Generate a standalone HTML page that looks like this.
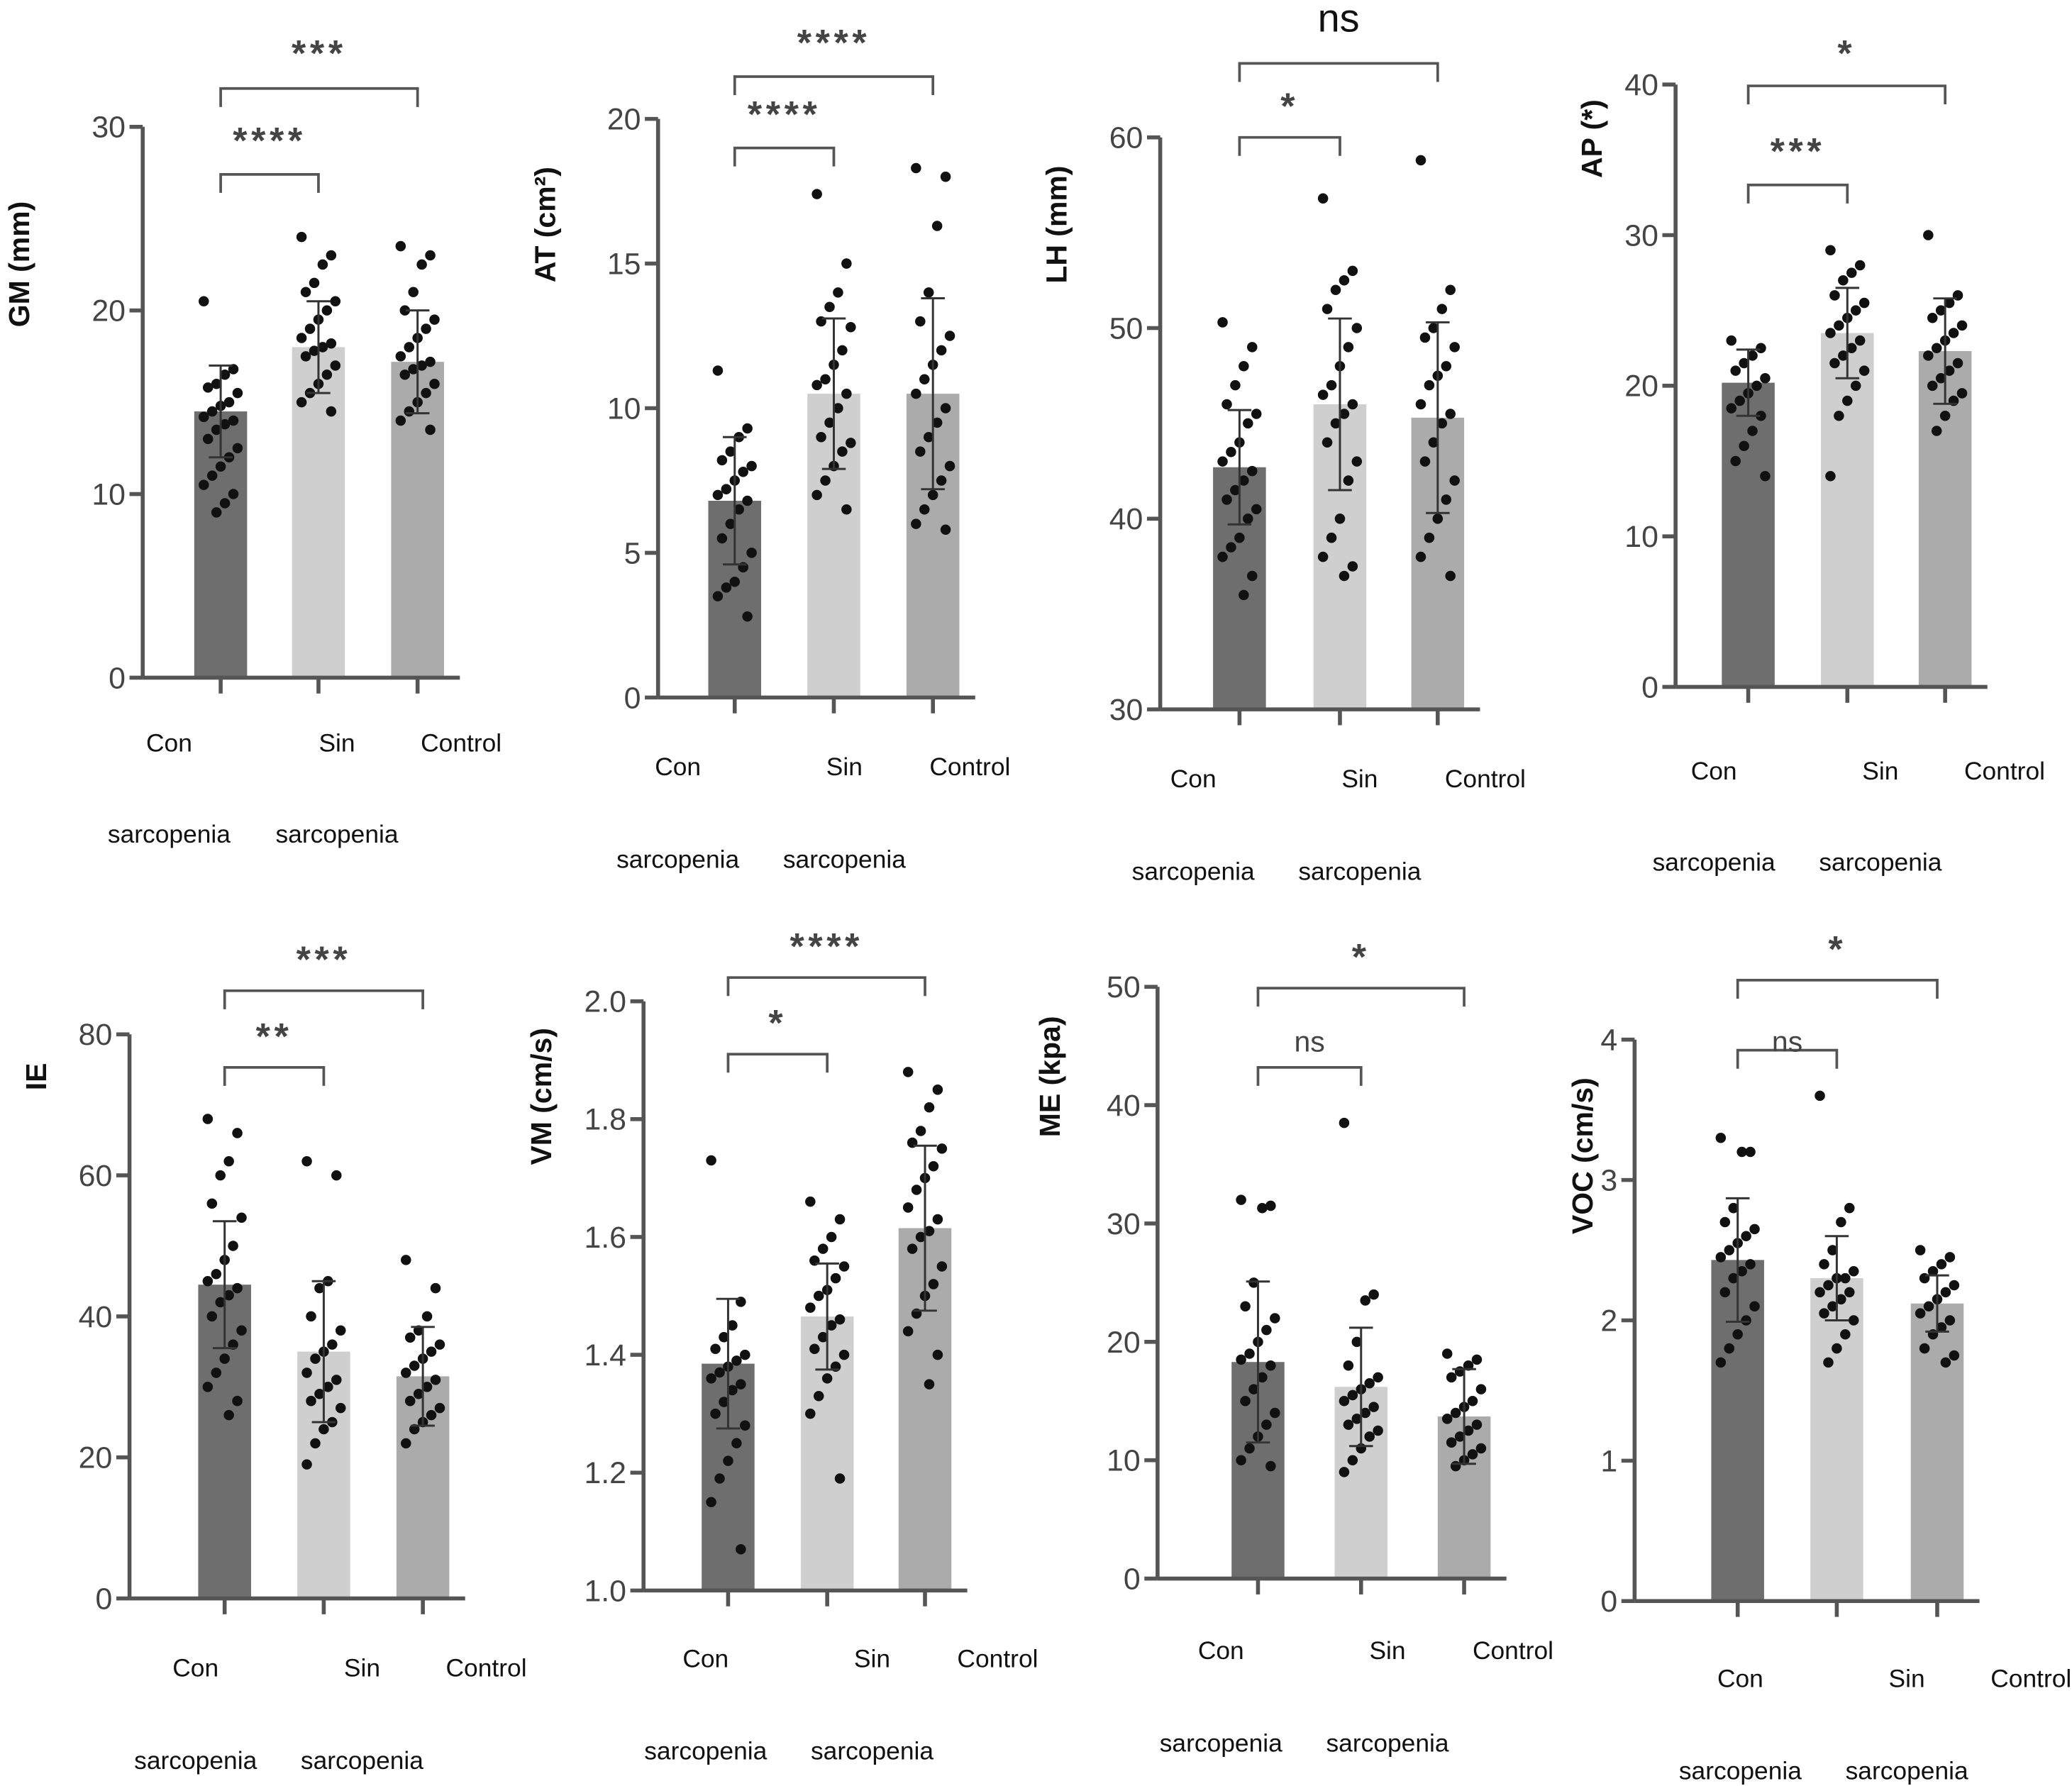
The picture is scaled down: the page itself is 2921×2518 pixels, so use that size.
<!DOCTYPE html>
<html><head><meta charset="utf-8"><style>
html,body{margin:0;padding:0;background:#fff;}
svg{display:block;}
text{font-family:"Liberation Sans",sans-serif;}
</style></head><body>
<svg id="chart" width="2921" height="2518" viewBox="0 0 1568 1352" preserveAspectRatio="none" xmlns="http://www.w3.org/2000/svg"></svg>
<script>
const categories = ["Con sarcopenia","Sin sarcopenia","Control"];

const gmMeans=[14.5,18,17.2]; const gmSd=[2.5,2.5,2.8];
const gmCon=[20.5,16.8,16.5,16,15.8,15.5,15,14.8,14.5,14.2,14,13.8,13.5,13,12.5,12,11.5,11,10.5,10,9.5,9];
const gmSin=[24,23,22.5,21.5,21,20.5,20,19.5,19,18.5,18.2,18,17.8,17.5,17,16.5,16,15.5,15,14.5];
const gmCtl=[23.5,23,22.5,21,20,19.5,19,18.5,18,17.5,17.2,17,16.8,16.5,16,15.5,15,14.5,14,13.5];
const gmTicks=[0,10,20,30];

const atMeans=[6.8,10.5,10.5]; const atSd=[2.2,2.6,3.3];
const atCon=[11.3,9.3,9,8.5,8.2,8,7.8,7.5,7.2,7,6.8,6.5,6,5.5,5,4.5,4,3.8,3.5,2.8];
const atSin=[17.4,15,14,13.5,13,12.8,12,11.5,11,10.8,10.5,10,9.5,9,8.8,8.5,8,7.5,7,6.5];
const atCtl=[18.3,18,16.3,14,13,12.5,12,11.5,11,10.5,10,9.5,9,8.5,8,7.5,7,6.5,6,5.8];
const atTicks=[0,5,10,15,20];

const lhMeans=[42.7,46,45.3]; const lhSd=[3,4.5,5];
const lhCon=[50.3,49,48,47,46,45.5,45,44,43.5,43,42.5,42,41.5,41,40.5,40,39,38.5,38,37,36];
const lhSin=[56.8,53,52.5,52,51,50,49,48,47,46.5,46,45.5,45,44,43,42,40,39,38,37.5,37];
const lhCtl=[58.8,52,51,50,49.5,49,48,47.5,47,46,45.5,45,44,43,42,41,40,39,38,37];
const lhTicks=[30,40,50,60];

const apMeans=[20.2,23.5,22.3]; const apSd=[2.2,3,3.5];
const apCon=[23,22.5,22,21.5,21,20.5,20,19.5,19,18.5,18,17,16,15,14];
const apSin=[29,28,27.5,27,26,25.5,25,24.5,24,23.5,23,22.5,22,21.5,21,20,19,18,14];
const apCtl=[30,26,25.5,25,24.5,24,23.5,23,22.5,22,21.5,21,20.5,20,19.5,19,18,17];
const apTicks=[0,10,20,30,40];

const ieMeans=[44.5,35,31.5]; const ieSd=[9,10,7];
const ieCon=[68,66,62,60,56,54,50,48,46,45,44,43,42,40,38,36,34,32,30,28,26];
const ieSin=[62,60,45,44,40,38,36,35,34,32,31,30,29,28,27,25,24,22,19];
const ieCtl=[48,44,40,38,37,36,35,34,33,32,31,30,29,28,27,26,25,24,22];
const ieTicks=[0,20,40,60,80];

const vmMeans=[1.385,1.465,1.615]; const vmSd=[0.11,0.09,0.14];
const vmCon=[1.73,1.49,1.45,1.43,1.41,1.40,1.39,1.38,1.37,1.36,1.35,1.34,1.32,1.30,1.28,1.25,1.22,1.19,1.15,1.07];
const vmSin=[1.66,1.63,1.60,1.58,1.56,1.55,1.53,1.51,1.50,1.48,1.46,1.45,1.43,1.41,1.40,1.38,1.36,1.33,1.30,1.19];
const vmCtl=[1.88,1.85,1.82,1.78,1.76,1.75,1.72,1.70,1.68,1.65,1.63,1.61,1.60,1.58,1.55,1.52,1.50,1.47,1.44,1.40,1.35];
const vmTicks=[1.0,1.2,1.4,1.6,1.8,2.0];

const meMeans=[18.3,16.2,13.7]; const meSd=[6.8,5,4];
const meCon=[32,31.5,31.3,25,23,22,21,20,19,18.5,18,17,16,15,14,13,12,11,10,9.5];
const meSin=[38.5,24,23.5,20,18,17,16.5,16,15.5,15,14.5,14,13.5,13,12.5,12,11,10,9];
const meCtl=[19,18.5,18,17.5,17,16,15,14.5,14,13.5,13,12.5,12,11.5,11,10.5,10,9.5];
const meTicks=[0,10,20,30,40,50];

const vocMeans=[2.43,2.3,2.12]; const vocSd=[0.44,0.3,0.2];
const vocCon=[3.3,3.2,3.2,2.8,2.7,2.65,2.6,2.55,2.5,2.45,2.4,2.35,2.3,2.2,2.1,2.0,1.9,1.8,1.7];
const vocSin=[3.6,2.8,2.7,2.5,2.4,2.35,2.3,2.3,2.25,2.2,2.2,2.15,2.1,2.05,2.0,1.9,1.8,1.7];
const vocCtl=[2.5,2.45,2.4,2.35,2.3,2.25,2.2,2.15,2.1,2.05,2,1.95,1.9,1.8,1.75,1.7];
const vocTicks=[0,1,2,3,4];

const NS="http://www.w3.org/2000/svg";
const svg=document.getElementById('chart');
function mk(tag,attrs,parent,txt){const e=document.createElementNS(NS,tag);for(const k in attrs)e.setAttribute(k,attrs[k]);if(txt!==undefined)e.textContent=txt;(parent||svg).appendChild(e);return e;}
const barFill=["#6e6e6e","#cfcfcf","#ababab"];

function panel(p){
  const g=mk('g',{});
  
  
  const lo=p.ticks[0],hi=p.ticks[p.ticks.length-1];
  const y=v=>p.y0+(v-lo)/(hi-lo)*(p.yTop-p.y0);
  const groups=[p.con,p.sin,p.ctl];
  p.means.forEach((m,i)=>{
    const r=mk('rect',{x:p.cx[i]-20,y:y(m),width:40,height:p.y0-y(m),fill:barFill[i]},g);
    
    
  });
  groups.forEach((arr,i)=>{arr.forEach((v,j)=>{
    const dx=((j*7)%9-4)*3.2;
    const c=mk('circle',{cx:p.cx[i]+dx,cy:y(v),r:3.9,fill:'#111'},g);
    
    
  });});
  p.means.forEach((m,i)=>{
    const a=y(m+p.sd[i]),b=y(Math.max(lo,m-p.sd[i]));
    mk('line',{x1:p.cx[i],x2:p.cx[i],y1:a,y2:b,stroke:'#333','stroke-width':1.6},g);
    mk('line',{x1:p.cx[i]-9,x2:p.cx[i]+9,y1:a,y2:a,stroke:'#333','stroke-width':1.6},g);
    mk('line',{x1:p.cx[i]-9,x2:p.cx[i]+9,y1:b,y2:b,stroke:'#333','stroke-width':1.6},g);
  });
  const ya=mk('line',{x1:p.ax,x2:p.ax,y1:p.y0,y2:p.yTop,stroke:'#555','stroke-width':3},g);
  
  const xa=mk('line',{x1:p.ax,x2:p.cx[2]+32,y1:p.y0,y2:p.y0,stroke:'#555','stroke-width':3},g);
  
  p.ticks.forEach(t=>{
    mk('line',{x1:p.ax-10,x2:p.ax,y1:y(t),y2:y(t),stroke:'#555','stroke-width':3},g);
    const lbl=p.dec?t.toFixed(p.dec):String(t);
    const tl=mk('text',{x:p.ax-13,y:y(t)+8,'text-anchor':'end','font-size':23,fill:'#444'},g,lbl);
    
  });
  p.cx.forEach(c=>mk('line',{x1:c,x2:c,y1:p.y0,y2:p.y0+12,stroke:'#555','stroke-width':3},g));
  const yt=mk('text',{x:p.lx,y:p.ly,'text-anchor':'middle','font-size':22,'font-weight':'bold',fill:'#111',transform:`rotate(-90 ${p.lx} ${p.ly})`},g,p.title);
  
  const lab=[["Con",p.lc[0]],["Sin",p.lc[1]],["Control",p.lc[2]]];
  lab.forEach(([t,x])=>{const e=mk('text',{x:x,y:p.ly1,'text-anchor':'middle','font-size':19,fill:'#111'},g,t);});
  [p.lc[0],p.lc[1]].forEach(x=>{const e=mk('text',{x:x,y:p.ly2,'text-anchor':'middle','font-size':19,fill:'#111'},g,'sarcopenia');});
  p.br.forEach(b=>{
    const x1=p.cx[0],x2=p.cx[b.to];
    mk('path',{d:`M${x1} ${b.y+14}V${b.y}H${x2}V${b.y+14}`,fill:'none',stroke:'#555','stroke-width':2},g);
    const st=mk('text',{x:(x1+x2)/2,y:b.ty,'text-anchor':'middle','font-size':b.fs||(b.ns?22:28),'font-weight':b.ns?'normal':'bold',fill:b.fs?'#111':'#444','letter-spacing':b.ns?0:3},g,b.t);
    
  });
}

panel({name:'gm',title:'GM (mm)',ticks:gmTicks,means:gmMeans,sd:gmSd,con:gmCon,sin:gmSin,ctl:gmCtl,ax:108,y0:513,yTop:96,cx:[167,241,316],lx:22,ly:200,lc:[128,255,349],ly1:569,ly2:638,
 br:[{to:2,y:67,t:'***',ty:50},{to:1,y:132,t:'****',ty:116}]});
panel({name:'at',title:'AT (cm²)',ticks:atTicks,means:atMeans,sd:atSd,con:atCon,sin:atSin,ctl:atCtl,ax:498,y0:528,yTop:90,cx:[556,631,706],lx:420,ly:170,lc:[513,639,734],ly1:587,ly2:657,
 br:[{to:2,y:58,t:'****',ty:42},{to:1,y:112,t:'****',ty:96}]});
panel({name:'lh',title:'LH (mm)',ticks:lhTicks,means:lhMeans,sd:lhSd,con:lhCon,sin:lhSin,ctl:lhCtl,ax:878,y0:537,yTop:104,cx:[938,1014,1088],lx:807,ly:170,lc:[903,1029,1124],ly1:596,ly2:666,
 br:[{to:2,y:48,t:'ns',ty:24,ns:true,fs:30},{to:1,y:104,t:'*',ty:90}]});
panel({name:'ap',title:'AP (*)',ticks:apTicks,means:apMeans,sd:apSd,con:apCon,sin:apSin,ctl:apCtl,ax:1268,y0:520,yTop:64,cx:[1323,1398,1472],lx:1212,ly:105,lc:[1297,1423,1517],ly1:590,ly2:659,
 br:[{to:2,y:65,t:'*',ty:50},{to:1,y:140,t:'***',ty:124}]});
panel({name:'ie',title:'IE',ticks:ieTicks,means:ieMeans,sd:ieSd,con:ieCon,sin:ieSin,ctl:ieCtl,ax:98,y0:1210,yTop:783,cx:[170,245,320],lx:35,ly:815,lc:[148,274,368],ly1:1269,ly2:1339,
 br:[{to:2,y:750,t:'***',ty:736},{to:1,y:808,t:'**',ty:794}]});
panel({name:'vm',title:'VM (cm/s)',ticks:vmTicks,dec:1,means:vmMeans,sd:vmSd,con:vmCon,sin:vmSin,ctl:vmCtl,ax:487,y0:1204,yTop:758,cx:[551,626,700],lx:417,ly:830,lc:[534,660,755],ly1:1262,ly2:1332,
 br:[{to:2,y:740,t:'****',ty:726},{to:1,y:798,t:'*',ty:784}]});
panel({name:'me',title:'ME (kpa)',ticks:meTicks,means:meMeans,sd:meSd,con:meCon,sin:meSin,ctl:meCtl,ax:876,y0:1195,yTop:747,cx:[952,1030,1108],lx:802,ly:815,lc:[924,1050,1145],ly1:1256,ly2:1326,
 br:[{to:2,y:748,t:'*',ty:734},{to:1,y:808,t:'ns',ty:796,ns:true}]});
panel({name:'voc',title:'VOC (cm/s)',ticks:vocTicks,means:vocMeans,sd:vocSd,con:vocCon,sin:vocSin,ctl:vocCtl,ax:1237,y0:1212,yTop:787,cx:[1315,1390,1466],lx:1205,ly:875,lc:[1317,1443,1537],ly1:1277,ly2:1347,
 br:[{to:2,y:742,t:'*',ty:728},{to:1,y:795,t:'ns',ty:796,ns:true}]});
</script>
</body></html>
